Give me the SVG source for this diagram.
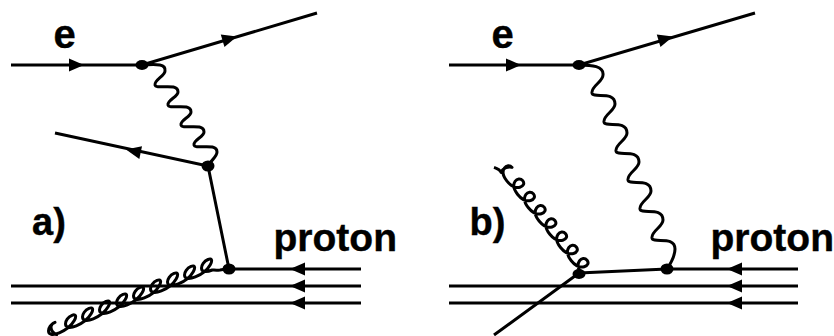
<svg xmlns="http://www.w3.org/2000/svg" width="834" height="336" viewBox="0 0 834 336">
<style>
.l{fill:none;stroke:#000;stroke-width:3}
.w{fill:none;stroke:#000;stroke-width:3;stroke-linejoin:round}
.t{font-family:"Liberation Sans",Arial,sans-serif;font-weight:bold;fill:#000;stroke:#000;stroke-width:.4}
</style>
<defs>
<polygon id="ar" points="0,0 -15,-6.500 -15,6.500" fill="#000"/>
</defs>
<rect width="834" height="336" fill="#fff"/>
<g id="connectors">
<path class="l" d="M11 65H142L317 13"/>
<path class="l" d="M55 133L208 166L229 269H361"/>
<path class="l" d="M11 286H361M11 303H361"/>
<path class="w" d="M142 65C158 64 166 64 165 71c0 5 -11 9 -10 14c1 5 23 -3 23 7c0 5 -11 8 -10 13c1 5 23 -3 23 7c0 5 -11 8 -10 13c1 5 23 -3 23 7c0 5 -11 8 -10 13c1 5 23 -3 23 7c0 5 -6 8 -9 14"/>
<path class="w" d="M226 269L220 270C216 270.500 214 270 212.300 270c-15 6.150 -12.300 -7.230 -4.300 -10.510c8 -3.280 2.300 11.330 -12.700 17.490c-15 6.150 -12.300 -7.230 -4.300 -10.510c8 -3.280 2.300 11.330 -12.700 17.490c-15 6.150 -12.300 -7.230 -4.300 -10.510c8 -3.280 2.300 11.330 -12.700 17.490c-15 6.150 -12.300 -7.230 -4.300 -10.510c8 -3.280 2.300 11.330 -12.700 17.490c-15 6.150 -12.300 -7.230 -4.300 -10.510c8 -3.280 2.300 11.330 -12.700 17.490c-15 6.150 -12.300 -7.230 -4.300 -10.510c8 -3.280 2.300 11.330 -12.700 17.490c-15 6.150 -12.300 -7.230 -4.300 -10.510c8 -3.280 2.300 11.330 -12.700 17.490c-15 6.150 -12.300 -7.230 -4.300 -10.510c8 -3.280 2.300 11.330 -12.700 17.490c-15 6.150 -12.300 -7.230 -4.300 -10.510c8 -3.280 2.300 11.330 -12.700 17.490c-15 6.150 -12.300 -7.230 -4.300 -10.510c-3 1 -4 3 -4 5c0 3 2 6 7 8"/>
<path class="l" d="M449 65H579L755 13"/>
<path class="l" d="M494 335L579 273L667 269H798"/>
<path class="l" d="M449 286H798M449 303H798"/>
<path class="w" d="M579 65C592 65 604 66 603 75c0 7 -12 11 -11 18c1 6 23 -3 23 11c0 7 -12 11 -11 18c1 6 23 -3 23 11c0 7 -12 11 -11 18c1 6 23 -3 23 11c0 7 -12 11 -11 18c1 6 23 -3 23 11c0 7 -12 11 -11 18c1 6 23 -3 23 11c0 7 -12 11 -11 18c1 6 23 -3 23 11c0 7 -4 14 -8 20"/>
<path class="w" d="M582 274c-9.140 -11.310 .63 -19.240 5.040 -13.780c4.410 5.460 -6.620 11.830 -15.760 .52c-9.140 -11.310 .63 -19.240 5.040 -13.780c4.410 5.460 -6.620 11.830 -15.760 .52c-9.140 -11.310 .63 -19.240 5.040 -13.780c4.410 5.460 -6.620 11.830 -15.760 .52c-9.140 -11.310 .63 -19.240 5.040 -13.780c4.410 5.460 -6.620 11.830 -15.760 .52c-9.140 -11.310 .63 -19.240 5.040 -13.780c4.410 5.460 -6.620 11.830 -15.760 .52c-9.140 -11.310 .63 -19.240 5.040 -13.780c4.410 5.460 -6.620 11.830 -15.760 .52c-9.140 -11.310 .63 -19.240 5.040 -13.780c4.410 5.460 -6.620 11.830 -15.760 .52c-9.140 -11.310 .63 -19.240 5.040 -13.780c-3 -1 -9 0 -11 5c-1 -3 -4 -4 -7 -5"/>
<use href="#ar" transform="translate(84 65)"/>
<use href="#ar" transform="translate(237 36.500) rotate(-16.500)"/>
<use href="#ar" transform="translate(126 149.500) rotate(192)"/>
<use href="#ar" transform="translate(290 269) rotate(180)"/>
<use href="#ar" transform="translate(290 286) rotate(180)"/>
<use href="#ar" transform="translate(290 303) rotate(180)"/>
<use href="#ar" transform="translate(521 65)"/>
<use href="#ar" transform="translate(673 36.500) rotate(-16.500)"/>
<use href="#ar" transform="translate(727 269) rotate(180)"/>
<use href="#ar" transform="translate(727 286) rotate(180)"/>
<use href="#ar" transform="translate(727 303) rotate(180)"/>
</g>
<g id="v1"><ellipse cx="142" cy="65" rx="6.500" ry="5"/></g>
<g id="v2"><ellipse cx="208" cy="166" rx="6.500" ry="5.500"/></g>
<g id="v3"><ellipse cx="229" cy="269" rx="6.500" ry="5.500"/></g>
<g id="v4"><ellipse cx="579" cy="65" rx="6.500" ry="5"/></g>
<g id="v5"><ellipse cx="579" cy="274" rx="6.500" ry="5"/></g>
<g id="v6"><ellipse cx="667" cy="269" rx="6.500" ry="5.500"/></g>
<g id="labels">
<text class="t" x="53.500" y="48" font-size="40">e</text>
<text class="t" x="491.500" y="48" font-size="40">e</text>
<text class="t" x="32" y="235" font-size="38">a)</text>
<text class="t" x="469.500" y="235" font-size="38">b)</text>
<text class="t" x="273.500" y="251" font-size="39">proton</text>
<text class="t" x="710.500" y="251" font-size="39">proton</text>
</g>
</svg>
